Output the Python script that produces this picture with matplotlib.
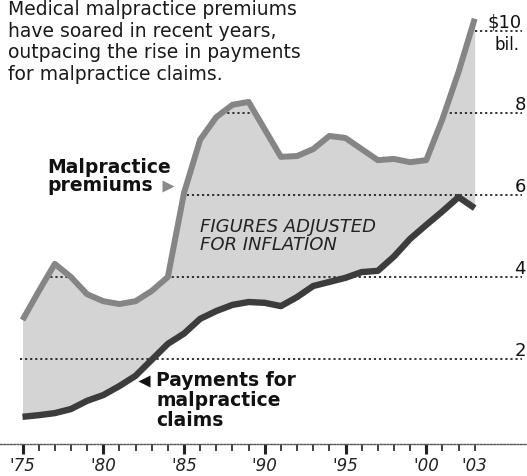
import matplotlib
matplotlib.use("Agg")
import matplotlib.pyplot as plt
from matplotlib.patches import Polygon

plt.rcParams['font.family'] = ['DejaVu Sans']

years = list(range(1975, 2004))
premiums = [2.95, 3.65, 4.32, 4.0, 3.58, 3.41, 3.34, 3.41, 3.66, 4.0,
            6.05, 7.35, 7.9, 8.2, 8.27, 7.6, 6.93, 6.95, 7.12, 7.44,
            7.39, 7.12, 6.85, 6.88, 6.8, 6.85, 7.85, 9.0, 10.3]
payments = [0.59, 0.63, 0.68, 0.78, 0.98, 1.12, 1.34, 1.59, 1.98, 2.37,
            2.62, 2.98, 3.17, 3.32, 3.39, 3.37, 3.29, 3.51, 3.78, 3.88,
            3.98, 4.12, 4.15, 4.5, 4.93, 5.27, 5.6, 5.95, 5.68]
grid_values = [2, 4, 6, 8, 10]
major_years = [1975, 1980, 1985, 1990, 1995, 2000]
major_labels = ["'75", "'80", "'85", "'90", "'95", "'00"]
title_lines = ["Medical malpractice premiums",
               "have soared in recent years,",
               "outpacing the rise in payments",
               "for malpractice claims."]

W, H = 527, 477
fig = plt.figure(figsize=(W / 100, H / 100), dpi=100)
# pixel mapping: x = 22.5 + 16.15*(yr-1975); y = 442 - 41*v (from top)
px_per_yr = 16.15
x0 = 1975 - 22.5 / px_per_yr
x1 = 1975 + (W - 22.5) / px_per_yr
bottom_px = 445
ax = fig.add_axes([0, (H - bottom_px) / H, 1, bottom_px / H])
ax.set_xlim(x0, x1)
ax.set_ylim((442 - bottom_px) / 41, 442 / 41)

def px2x(px):
    return x0 + px / px_per_yr

def py2y(py):
    return (442 - py) / 41

# fill
ax.fill_between(years, payments, premiums, color='#d4d4d4', lw=0, zorder=1)

# gridlines clipped under premium curve and to right of data
clip_pts = [(px2x(19), -1), (px2x(19), premiums[0])] + list(zip(years, premiums)) + \
           [(years[-1], 12), (x1 + 1, 12), (x1 + 1, -1)]
clip_poly = Polygon(clip_pts, closed=True, transform=ax.transData,
                    facecolor='none', edgecolor='none')
ax.add_patch(clip_poly)
for g in grid_values:
    ln, = ax.plot([px2x(20), px2x(522)], [g, g], color='#222222', lw=1.3,
                  linestyle=(0, (1.2, 1.6)), zorder=2)
    ln.set_clip_path(clip_poly)

# lines
ax.plot(years, payments, color='#3c3c3c', lw=4.6, solid_capstyle='butt',
        solid_joinstyle='round', zorder=3)
ax.plot(years, premiums, color='#858585', lw=4.3, solid_capstyle='butt',
        solid_joinstyle='round', zorder=4)

# right axis labels
for g in [2, 4, 6, 8]:
    ax.text(px2x(526), g + 0.1, str(g), ha='right', va='baseline',
            fontsize=13, color='#111111')
ax.text(px2x(487), py2y(27), '$10', ha='left', va='baseline',
        fontsize=13, color='#111111')
ax.text(px2x(494), py2y(50), 'bil.', ha='left', va='baseline',
        fontsize=12, color='#111111')

# title
for i, t in enumerate(title_lines):
    ax.text(px2x(8), py2y(15 + 21.7 * i), t, ha='left', va='baseline',
            fontsize=13.5, color='#1a1a1a')

# series labels (multi-line text: va='baseline' anchors the last line)
ax.text(px2x(47), py2y(191), 'Malpractice\npremiums', ha='left',
        va='baseline', fontsize=13.5, fontweight='bold', color='#111111',
        linespacing=0.95)
ax.plot([px2x(168)], [py2y(186.5)], marker='>', ms=8.5, color='#8a8a8a',
        mec='none', zorder=5)

ax.plot([px2x(144)], [py2y(382)], marker='<', ms=9, color='#111111',
        mec='none', zorder=5)
ax.text(px2x(156), py2y(426), 'Payments for\nmalpractice\nclaims', ha='left',
        va='baseline', fontsize=13.5, fontweight='bold', color='#111111',
        linespacing=1.06)

ax.text(px2x(200), py2y(250), 'FIGURES ADJUSTED\nFOR INFLATION', ha='left',
        va='baseline', fontsize=13, style='italic', color='#222222',
        linespacing=1.0)

# axes styling
for s in ['top', 'left', 'right']:
    ax.spines[s].set_visible(False)
ax.spines['bottom'].set_linestyle((0, (1.2, 1.2)))
ax.spines['bottom'].set_color('#555555')
ax.spines['bottom'].set_linewidth(1.0)
ax.set_yticks([])
ax.set_xticks(major_years, labels=major_labels)
minor_years = [y for y in years if y not in major_years]
ax.set_xticks(minor_years,
              labels=["'03" if y == 2003 else '' for y in minor_years],
              minor=True)
ax.tick_params(axis='x', which='major', direction='out', length=7.5, width=2.2,
               pad=1.0, labelsize=12, color='#222222')
ax.tick_params(axis='x', which='minor', direction='out', length=5, width=1.3,
               pad=3.5, labelsize=12, color='#333333')
for lab in ax.get_xticklabels() + ax.get_xticklabels(minor=True):
    lab.set_style('italic')
    lab.set_color('#222222')

fig.savefig('out.png', dpi=100)
